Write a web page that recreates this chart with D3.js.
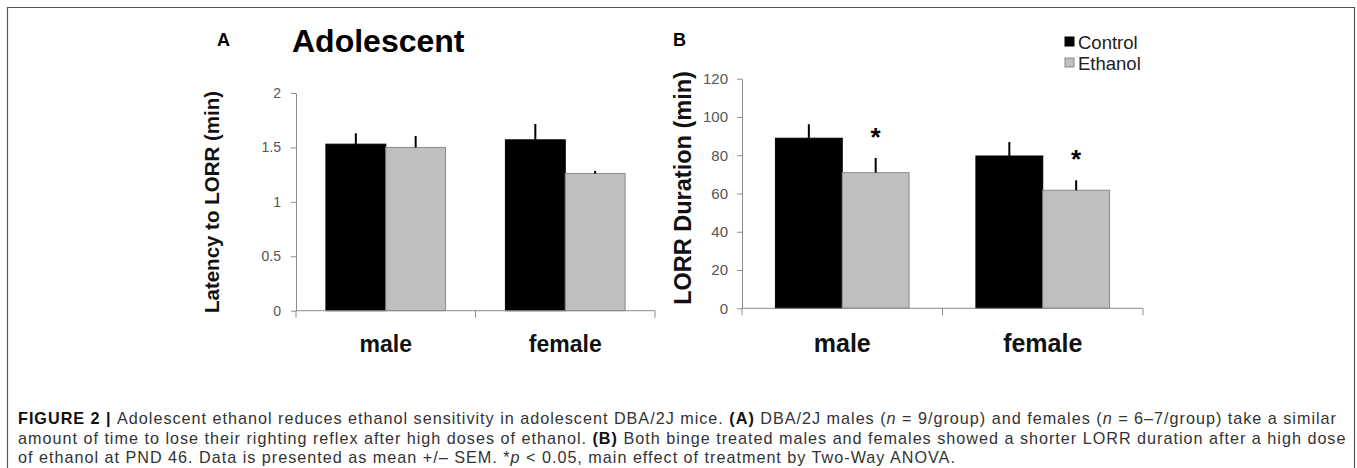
<!DOCTYPE html>
<html>
<head>
<meta charset="utf-8">
<style>
  body { margin: 0; background: #fff; }
  svg { display: block; font-family: "Century Gothic", "Liberation Sans", Arial, sans-serif; }
  .tick text { fill: #555; }
  .caption { font-family: "Liberation Sans Narrow", "Liberation Sans", Arial, sans-serif; fill: #333; }
</style>
<script src="https://cdn.jsdelivr.net/npm/d3@7"></script>
</head>
<body>
<script>
// data
const groups = ["male", "female"];
const treatments = ["Control", "Ethanol"];

// panel A: latency to LORR (min)
const latencyControl = [1.53, 1.57];
const latencyEthanol = [1.50, 1.26];
const latencyControlSem = [0.10, 0.145];
const latencyEthanolSem = [0.105, 0.024];
const latencyTicks = [0, 0.5, 1, 1.5, 2];

// panel B: LORR duration (min)
const durationControl = [88.9, 79.6];
const durationEthanol = [70.9, 61.7];
const durationControlSem = [7.3, 7.3];
const durationEthanolSem = [7.7, 5.2];
const durationTicks = [0, 20, 40, 60, 80, 100, 120];
const durationSignificant = [true, true];

const fills = { Control: "#000", Ethanol: "#bfbfbf" };
const strokes = { Control: "#000", Ethanol: "#8a8a8a" };

const W = 1357, H = 468;
const svg = d3.select("body").append("svg").attr("width", W).attr("height", H);

// frame around the figure
svg.append("path")
  .attr("d", `M7.5,${H + 5} V7.5 H1354.5 V${H + 5}`)
  .attr("fill", "none").attr("stroke", "#555").attr("stroke-width", 1.2);

function rowsFor(ctrl, eth, ctrlSem, ethSem) {
  return groups.flatMap((g, i) => [
    { group: g, t: "Control", v: ctrl[i], sem: ctrlSem[i], i },
    { group: g, t: "Ethanol", v: eth[i], sem: ethSem[i], i }
  ]);
}

function drawPanel(p) {
  const x = d3.scaleBand(groups, [p.left, p.right]);
  const bw = x.bandwidth();
  const xi = d3.scaleBand(treatments, [bw / 6, bw * 5 / 6]);
  const y = d3.scaleLinear([0, p.max], [p.bottom, p.top]);
  const g = svg.append("g");

  // y axis
  g.append("g")
    .attr("transform", `translate(${p.left},0)`)
    .call(d3.axisLeft(y).tickValues(p.ticks).tickSize(5).tickSizeOuter(0)
      .tickPadding(p.tickPad).tickFormat(d3.format("")))
    .call(a => a.selectAll("line, path").attr("stroke", "#8c8c8c"))
    .call(a => a.selectAll("text").attr("font-size", p.tickFont).attr("font-family", null));

  // bars
  const rows = p.rows;
  g.selectAll("rect.bar").data(rows).join("rect")
    .attr("class", "bar")
    .attr("x", d => x(d.group) + xi(d.t))
    .attr("width", xi.bandwidth())
    .attr("y", d => y(d.v))
    .attr("height", d => y(0) - y(d.v))
    .attr("fill", d => fills[d.t])
    .attr("stroke", d => strokes[d.t])
    .attr("stroke-width", 1);

  // error bars (upper only)
  g.selectAll("line.err").data(rows).join("line")
    .attr("class", "err")
    .attr("x1", d => x(d.group) + xi(d.t) + xi.bandwidth() / 2)
    .attr("x2", d => x(d.group) + xi(d.t) + xi.bandwidth() / 2)
    .attr("y1", d => y(d.v))
    .attr("y2", d => y(d.v + d.sem))
    .attr("stroke", "#000").attr("stroke-width", 2);

  // x axis: line with ticks between categories
  g.append("line")
    .attr("x1", p.left).attr("x2", p.right)
    .attr("y1", y(0)).attr("y2", y(0))
    .attr("stroke", "#8c8c8c");
  g.selectAll("line.xtick").data(d3.range(groups.length + 1)).join("line")
    .attr("class", "xtick")
    .attr("x1", i => p.left + i * x.step()).attr("x2", i => p.left + i * x.step())
    .attr("y1", y(0)).attr("y2", y(0) + 7)
    .attr("stroke", "#8c8c8c");
  g.selectAll("text.xlab").data(groups).join("text")
    .attr("class", "xlab")
    .attr("x", d => x(d) + bw / 2)
    .attr("y", p.labelY)
    .attr("text-anchor", "middle")
    .attr("font-weight", "bold")
    .attr("font-size", p.xFont)
    .attr("fill", "#111")
    .text(d => d);

  // y title
  g.append("text")
    .attr("transform", `translate(${p.titleX},${p.titleY}) rotate(-90)`)
    .attr("text-anchor", "middle")
    .attr("font-weight", "bold")
    .attr("font-size", p.titleFont)
    .attr("fill", "#111")
    .text(p.title);

  // panel letter
  g.append("text")
    .attr("x", p.letterX).attr("y", 46)
    .attr("font-weight", "bold").attr("font-size", 18)
    .attr("font-family", "Liberation Sans, Arial, sans-serif")
    .text(p.letter);

  // significance marks
  if (p.sig) {
    g.selectAll("text.sig").data(rows.filter(d => d.t === "Ethanol" && p.sig[d.i])).join("text")
      .attr("class", "sig")
      .attr("x", d => x(d.group) + xi(d.t) + xi.bandwidth() / 2)
      .attr("y", d => y(d.v + d.sem) - 12)
      .attr("text-anchor", "middle")
      .attr("font-weight", "bold")
      .attr("font-size", 26)
      .text("*");
  }
  return { x, xi, y };
}

drawPanel({
  letter: "A", letterX: 217,
  rows: rowsFor(latencyControl, latencyEthanol, latencyControlSem, latencyEthanolSem),
  left: 296, right: 655, top: 93, bottom: 310.7, max: 2,
  ticks: latencyTicks, tickPad: 10, tickFont: 14,
  labelY: 352, xFont: 23,
  title: "Latency to LORR (min)", titleX: 219, titleY: 202, titleFont: 20.5
});

drawPanel({
  letter: "B", letterX: 673,
  rows: rowsFor(durationControl, durationEthanol, durationControlSem, durationEthanolSem),
  left: 742, right: 1143, top: 78.7, bottom: 308.3, max: 120,
  ticks: durationTicks, tickPad: 9, tickFont: 15,
  labelY: 352, xFont: 25,
  title: "LORR Duration (min)", titleX: 691, titleY: 188, titleFont: 23.5,
  sig: durationSignificant
});

// title of panel A
svg.append("text")
  .attr("x", 292).attr("y", 52)
  .attr("font-weight", "bold").attr("font-size", 32)
  .text("Adolescent");

// legend
const legend = svg.append("g").selectAll("g").data(treatments).join("g")
  .attr("transform", (d, i) => `translate(1065,${37 + i * 21})`);
legend.append("rect")
  .attr("width", 9).attr("height", 9)
  .attr("fill", d => fills[d]).attr("stroke", d => strokes[d]);
legend.append("text")
  .attr("x", 13).attr("y", 12)
  .attr("font-size", 18.5).attr("fill", "#222")
  .text(d => d);

// caption
const captionLines = [
  [["FIGURE 2 | ", "b"], ["Adolescent ethanol reduces ethanol sensitivity in adolescent DBA/2J mice. "], ["(A)", "b"],
   [" DBA/2J males ("], ["n", "i"], [" = 9/group) and females ("], ["n", "i"], [" = 6–7/group) take a similar"]],
  [["amount of time to lose their righting reflex after high doses of ethanol. "], ["(B)", "b"],
   [" Both binge treated males and females showed a shorter LORR duration after a high dose"]],
  [["of ethanol at PND 46. Data is presented as mean +/– SEM. *"], ["p", "i"],
   [" < 0.05, main effect of treatment by Two-Way ANOVA."]]
];
const cap = svg.append("g").attr("class", "caption");
const capText = cap.selectAll("text").data(captionLines).join("text")
  .attr("x", 18).attr("y", (d, i) => 424 + i * 19.5)
  .attr("font-size", 16.2);
capText.selectAll("tspan").data(d => d).join("tspan")
  .attr("font-weight", d => d[1] === "b" ? "bold" : null)
  .attr("fill", d => d[1] === "b" ? "#111" : null)
  .attr("font-style", d => d[1] === "i" ? "italic" : null)
  .text(d => d[0]);
// spread the first line to the figure width with letter spacing
const first = capText.node();
const spacing = (1319 - first.getComputedTextLength()) / first.getNumberOfChars();
capText.attr("letter-spacing", spacing);
</script>
</body>
</html>
